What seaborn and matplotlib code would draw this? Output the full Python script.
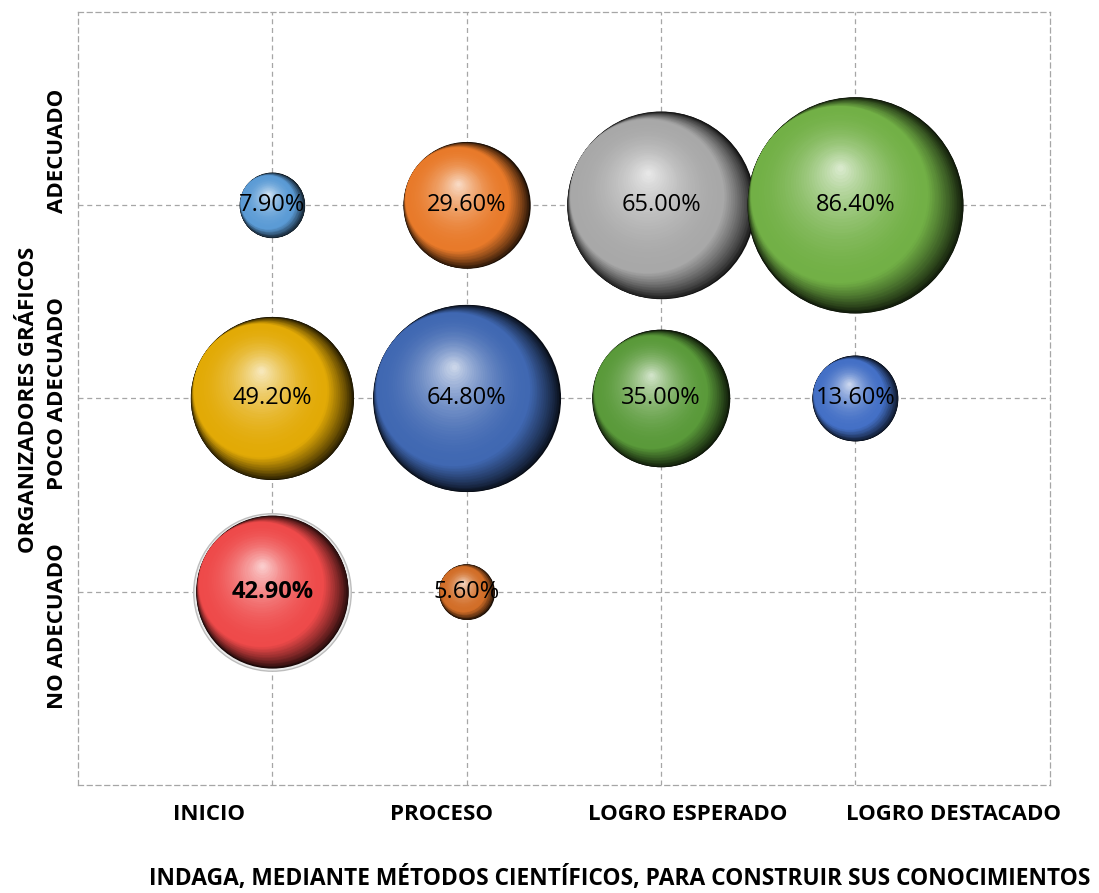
import matplotlib
matplotlib.use("Agg")
import matplotlib.pyplot as plt
from matplotlib.transforms import offset_copy, ScaledTranslation
from matplotlib.colors import to_rgb
import numpy as np
import pandas as pd
import seaborn as sns

# categories
x_labels = ["INICIO", "PROCESO", "LOGRO ESPERADO", "LOGRO DESTACADO"]
y_labels = ["NO ADECUADO", "POCO ADECUADO", "ADECUADO"]

# one bubble per (x category, y category)
bubble_x = ["INICIO", "PROCESO", "LOGRO ESPERADO", "LOGRO DESTACADO",
            "INICIO", "PROCESO", "LOGRO ESPERADO", "LOGRO DESTACADO",
            "INICIO", "PROCESO"]
bubble_y = ["ADECUADO", "ADECUADO", "ADECUADO", "ADECUADO",
            "POCO ADECUADO", "POCO ADECUADO", "POCO ADECUADO", "POCO ADECUADO",
            "NO ADECUADO", "NO ADECUADO"]
values = [7.9, 29.6, 65.0, 86.4, 49.2, 64.8, 35.0, 13.6, 42.9, 5.6]

bubble_colors = ["#5b9bd5", "#e87a2a", "#a8a8a8", "#72b046", "#e2aa06",
                 "#4068b2", "#5a9a3a", "#4470c6", "#ee4a4a", "#d26e28"]

df = pd.DataFrame({"x": [x_labels.index(v) + 1 for v in bubble_x],
                   "y": [y_labels.index(v) + 1 for v in bubble_y],
                   "value": values,
                   "id": range(len(values))})

SMAX = 24200  # marker area (pt^2) of the largest bubble
FONT = ["Open Sans", "DejaVu Sans"]

sns.set_style("white")
plt.rcParams["font.family"] = FONT
plt.rcParams["text.color"] = "black"
plt.rcParams["axes.labelcolor"] = "black"
plt.rcParams["xtick.color"] = "black"
plt.rcParams["ytick.color"] = "black"

fig, ax = plt.subplots(figsize=(10.99, 8.93), dpi=100)
fig.subplots_adjust(left=0.071, right=0.955, top=0.9866, bottom=0.121)

dark = {i: tuple(np.array(to_rgb(c)) * 0.12) for i, c in enumerate(bubble_colors)}
sns.scatterplot(data=df, x="x", y="y", hue="id", palette=dark, size="value",
                sizes=(0, SMAX), size_norm=(0, max(values)), legend=False,
                linewidth=0, alpha=1, ax=ax, zorder=3)

# light rim around the highlighted bubble
red = df[df["value"] == 42.9]
ax.scatter(red["x"], red["y"], s=red["value"] / max(values) * SMAX * 1.07,
           color="#ececec", edgecolors="#bdbdbd", linewidths=1, zorder=2)


def mix(a, b, f):
    return tuple(np.clip(np.array(a) + (np.array(b) - np.array(a)) * f, 0, 1))


for _, row in df.iterrows():
    base = np.array(to_rgb(bubble_colors[int(row["id"])]))
    light = base + (1 - base) * 0.72
    s = row["value"] / max(values) * SMAX
    R = np.sqrt(s) / 2
    # shadow: circles tangent on the lit (upper-left) side
    hs = np.array([-0.15, 0.10]) * R
    for u in np.linspace(0, 1, 30):
        r = R - u * np.hypot(*hs)
        tr = offset_copy(ax.transData, fig=fig, x=u * hs[0], y=u * hs[1], units="points")
        ax.scatter([row["x"]], [row["y"]], s=(2 * r) ** 2,
                   color=mix(base * 0.12, base, u ** 0.8),
                   linewidths=0, transform=tr, zorder=4)
    # highlight towards the upper left
    c1, r1 = hs, R - np.hypot(*hs)
    hl = np.array([-0.14, 0.34]) * R
    for v in np.linspace(0, 1, 34)[1:]:
        c = c1 + (hl - c1) * v
        r = r1 + (0.03 * R - r1) * v
        tr = offset_copy(ax.transData, fig=fig, x=c[0], y=c[1], units="points")
        ax.scatter([row["x"]], [row["y"]], s=(2 * r) ** 2,
                   color=mix(base, light, v ** 1.9),
                   linewidths=0, transform=tr, zorder=4)
    ax.text(row["x"], row["y"], f"{row['value']:.2f}%", ha="center", va="center",
            fontsize=17, fontweight="bold" if row["value"] == 42.9 else "normal",
            color="black", zorder=6)

ax.set_xlim(0, 5)
ax.set_ylim(0, 4)
ax.set_xticks([1, 2, 3, 4])
ax.set_xticklabels(x_labels, fontsize=16, fontweight="bold")
ax.set_yticks([1, 2, 3])
ax.set_yticklabels(y_labels, fontsize=16, fontweight="bold", rotation=90,
                   va="center")
ax.tick_params(axis="x", length=0, pad=14)
ax.tick_params(axis="y", length=0, pad=7)

# the category labels sit off their gridlines in the original
x_shift = [-63, -25, 27, 98]
y_shift = [-34, 5, 54]
for lbl, dx in zip(ax.get_xticklabels(), x_shift):
    lbl.set_transform(lbl.get_transform() + ScaledTranslation(dx / 100, 0, fig.dpi_scale_trans))
for lbl, dy in zip(ax.get_yticklabels(), y_shift):
    lbl.set_transform(lbl.get_transform() + ScaledTranslation(0, dy / 100, fig.dpi_scale_trans))

ax.grid(True, linestyle=(0, (4, 3)), color="#a6a6a6", linewidth=0.9)
ax.set_axisbelow(True)
for sp in ax.spines.values():
    sp.set_visible(True)
    sp.set_linestyle((0, (4, 3)))
    sp.set_color("#a6a6a6")
    sp.set_linewidth(0.9)

ax.set_xlabel("INDAGA, MEDIANTE MÉTODOS CIENTÍFICOS, PARA CONSTRUIR SUS CONOCIMIENTOS",
              fontsize=16.4, fontweight="bold")
ax.xaxis.set_label_coords(0.558, -0.105)
ax.set_ylabel("ORGANIZADORES GRÁFICOS", fontsize=16, fontweight="bold")
ax.yaxis.set_label_coords(-0.04, 0.498)

fig.savefig("out.png", dpi=100)
